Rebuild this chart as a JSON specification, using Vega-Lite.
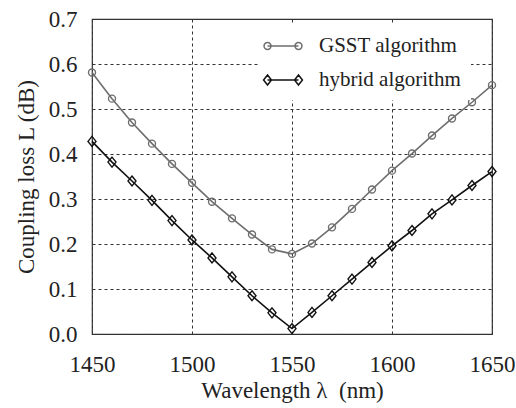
{
  "$schema": "https://vega.github.io/schema/vega-lite/v6.json",
  "autosize": {"type": "none"},
  "padding": {"left": 92, "top": 19, "right": 24, "bottom": 74},
  "width": 400,
  "height": 315,
  "background": "white",
  "config": {
    "view": {"stroke": "#333333", "strokeWidth": 1.2},
    "font": "Liberation Serif",
    "axis": {
      "labelFont": "Liberation Serif",
      "titleFont": "Liberation Serif",
      "labelColor": "#222222",
      "titleColor": "#222222",
      "titleFontWeight": "normal",
      "grid": true,
      "gridColor": "#333333",
      "gridDash": [3, 3],
      "gridWidth": 1,
      "gridOpacity": 1,
      "domain": false,
      "ticks": false,
      "labelFlush": false
    }
  },
  "data": {
    "values": [
      {"series": "GSST algorithm", "wavelength": 1450, "loss": 0.581},
      {"series": "GSST algorithm", "wavelength": 1460, "loss": 0.523},
      {"series": "GSST algorithm", "wavelength": 1470, "loss": 0.470},
      {"series": "GSST algorithm", "wavelength": 1480, "loss": 0.423},
      {"series": "GSST algorithm", "wavelength": 1490, "loss": 0.378},
      {"series": "GSST algorithm", "wavelength": 1500, "loss": 0.336},
      {"series": "GSST algorithm", "wavelength": 1510, "loss": 0.294},
      {"series": "GSST algorithm", "wavelength": 1520, "loss": 0.257},
      {"series": "GSST algorithm", "wavelength": 1530, "loss": 0.221},
      {"series": "GSST algorithm", "wavelength": 1540, "loss": 0.188},
      {"series": "GSST algorithm", "wavelength": 1550, "loss": 0.178},
      {"series": "GSST algorithm", "wavelength": 1560, "loss": 0.201},
      {"series": "GSST algorithm", "wavelength": 1570, "loss": 0.237},
      {"series": "GSST algorithm", "wavelength": 1580, "loss": 0.278},
      {"series": "GSST algorithm", "wavelength": 1590, "loss": 0.321},
      {"series": "GSST algorithm", "wavelength": 1600, "loss": 0.363},
      {"series": "GSST algorithm", "wavelength": 1610, "loss": 0.401},
      {"series": "GSST algorithm", "wavelength": 1620, "loss": 0.441},
      {"series": "GSST algorithm", "wavelength": 1630, "loss": 0.479},
      {"series": "GSST algorithm", "wavelength": 1640, "loss": 0.515},
      {"series": "GSST algorithm", "wavelength": 1650, "loss": 0.553},
      {"series": "hybrid algorithm", "wavelength": 1450, "loss": 0.428},
      {"series": "hybrid algorithm", "wavelength": 1460, "loss": 0.382},
      {"series": "hybrid algorithm", "wavelength": 1470, "loss": 0.340},
      {"series": "hybrid algorithm", "wavelength": 1480, "loss": 0.297},
      {"series": "hybrid algorithm", "wavelength": 1490, "loss": 0.252},
      {"series": "hybrid algorithm", "wavelength": 1500, "loss": 0.209},
      {"series": "hybrid algorithm", "wavelength": 1510, "loss": 0.169},
      {"series": "hybrid algorithm", "wavelength": 1520, "loss": 0.127},
      {"series": "hybrid algorithm", "wavelength": 1530, "loss": 0.085},
      {"series": "hybrid algorithm", "wavelength": 1540, "loss": 0.047},
      {"series": "hybrid algorithm", "wavelength": 1550, "loss": 0.012},
      {"series": "hybrid algorithm", "wavelength": 1560, "loss": 0.048},
      {"series": "hybrid algorithm", "wavelength": 1570, "loss": 0.085},
      {"series": "hybrid algorithm", "wavelength": 1580, "loss": 0.122},
      {"series": "hybrid algorithm", "wavelength": 1590, "loss": 0.159},
      {"series": "hybrid algorithm", "wavelength": 1600, "loss": 0.196},
      {"series": "hybrid algorithm", "wavelength": 1610, "loss": 0.230},
      {"series": "hybrid algorithm", "wavelength": 1620, "loss": 0.267},
      {"series": "hybrid algorithm", "wavelength": 1630, "loss": 0.298},
      {"series": "hybrid algorithm", "wavelength": 1640, "loss": 0.330},
      {"series": "hybrid algorithm", "wavelength": 1650, "loss": 0.361}
    ]
  },
  "encoding": {
    "x": {
      "field": "wavelength",
      "type": "quantitative",
      "scale": {"domain": [1450, 1650], "nice": false, "zero": false},
      "axis": {
        "values": [1450, 1500, 1550, 1600, 1650],
        "format": "d",
        "labelFontSize": 23,
        "labelPadding": 19,
        "title": "Wavelength λ\u2002(nm)",
        "titleFontSize": 23,
        "titlePadding": 3
      }
    },
    "y": {
      "field": "loss",
      "type": "quantitative",
      "scale": {"domain": [0, 0.7], "nice": false},
      "axis": {
        "values": [0, 0.1, 0.2, 0.3, 0.4, 0.5, 0.6, 0.7],
        "format": ".1f",
        "labelFontSize": 23,
        "labelPadding": 15,
        "title": "Coupling loss L (dB)",
        "titleFontSize": 23,
        "titlePadding": 10
      }
    },
    "color": {
      "field": "series",
      "type": "nominal",
      "scale": {"domain": ["GSST algorithm", "hybrid algorithm"], "range": ["#6e6e6e", "#111111"]},
      "legend": {
        "title": null,
        "orient": "none",
        "legendX": 168,
        "legendY": 4,
        "fillColor": "white",
        "padding": 10,
        "symbolSize": 576,
        "rowPadding": 11,
        "labelOffset": 23,
        "labelFont": "Liberation Serif",
        "labelFontSize": 21,
        "labelColor": "#222222",
        "labelLimit": 300,
        "encode": {
          "symbols": {
            "update": {
              "shape": {"signal": "datum.value === 'GSST algorithm' ? 'M-1.29,0L1.29,0M1.58,0A0.29,0.29 0 1,1 1,0A0.29,0.29 0 1,1 1.58,0M-1,0A0.29,0.29 0 1,1 -1.58,0A0.29,0.29 0 1,1 -1,0' : 'M-1.29,0L1.29,0M1.29,-0.42L1.62,0L1.29,0.42L0.96,0ZM-1.29,-0.42L-0.96,0L-1.29,0.42L-1.62,0Z'"},
              "stroke": {"signal": "datum.value === 'GSST algorithm' ? '#6e6e6e' : '#111111'"},
              "fill": {"value": "transparent"},
              "strokeWidth": {"value": 1.5},
              "size": {"value": 576},
              "opacity": {"value": 1}
            }
          }
        }
      }
    }
  },
  "layer": [
    {
      "mark": {"type": "line", "strokeWidth": 1.6}
    },
    {
      "transform": [{"filter": "datum.series === 'GSST algorithm'"}],
      "mark": {"type": "point", "filled": false, "strokeWidth": 1.4, "opacity": 1, "shape": "circle", "size": 49}
    },
    {
      "transform": [{"filter": "datum.series === 'hybrid algorithm'"}],
      "mark": {"type": "point", "filled": false, "strokeWidth": 1.4, "opacity": 1, "shape": "M0,-1.25L1,0L0,1.25L-1,0Z", "size": 64}
    }
  ]
}
